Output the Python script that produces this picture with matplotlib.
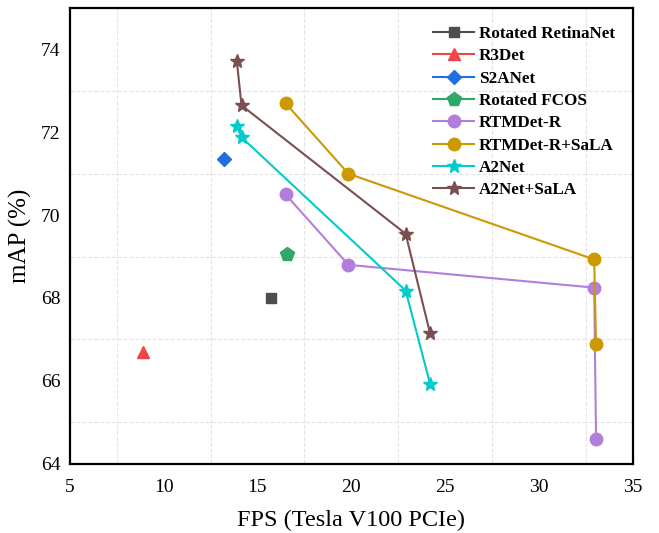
import matplotlib
matplotlib.use("Agg")
import matplotlib.pyplot as plt
from matplotlib.ticker import MultipleLocator

plt.rcParams['font.family'] = ['Liberation Serif', 'DejaVu Serif']

# single-model results (FPS, mAP)
retina_fps, retina_map = [15.7], [68.0]
r3det_fps, r3det_map = [8.9], [66.7]
s2anet_fps, s2anet_map = [13.2], [71.35]
fcos_fps, fcos_map = [16.6], [69.05]

# model families with several sizes
rtmdet_fps = [16.5, 19.85, 32.95, 33.05]
rtmdet_map = [70.5, 68.8, 68.25, 64.6]
rtmdet_sala_fps = [16.5, 19.85, 32.95, 33.05]
rtmdet_sala_map = [72.7, 71.0, 68.93, 66.9]
a2net_fps = [13.9, 14.15, 22.9, 24.2]
a2net_map = [72.15, 71.88, 68.18, 65.93]
a2net_sala_fps = [13.9, 14.15, 22.9, 24.2]
a2net_sala_map = [73.72, 72.65, 69.55, 67.15]

fig, ax = plt.subplots(figsize=(6.59, 5.33), dpi=100)
fig.subplots_adjust(left=0.106, right=0.96, bottom=0.13, top=0.985)

ms = 9
ax.plot(retina_fps, retina_map, '-s', color='#4d4d4d', ms=7, label='Rotated RetinaNet')
ax.plot(r3det_fps, r3det_map, '-^', color='#f04545', ms=ms, label='R3Det')
ax.plot(s2anet_fps, s2anet_map, '-D', color='#1f6fdf', ms=7, label='S2ANet')
ax.plot(fcos_fps, fcos_map, '-p', color='#2ea866', ms=10, label='Rotated FCOS')
ax.plot(rtmdet_fps, rtmdet_map, '-o', color='#b27ede', ms=ms, lw=1.5, label='RTMDet-R')
ax.plot(rtmdet_sala_fps, rtmdet_sala_map, '-o', color='#cc9900', ms=ms, lw=1.5, label='RTMDet-R+SaLA')
ax.plot(a2net_fps, a2net_map, '-*', color='#00cccc', ms=10, lw=1.5, label='A2Net')
ax.plot(a2net_sala_fps, a2net_sala_map, '-*', color='#7a4f4f', ms=10, lw=1.5, label='A2Net+SaLA')

ax.set_xlim(5, 35)
ax.set_ylim(64, 75)
ax.xaxis.set_major_locator(MultipleLocator(5))
ax.xaxis.set_minor_locator(MultipleLocator(2.5))
ax.yaxis.set_major_locator(MultipleLocator(2))
ax.yaxis.set_minor_locator(MultipleLocator(1))
ax.grid(which='minor', ls='--', color='#e4e4e4', lw=0.8)
ax.tick_params(which='both', length=0, labelsize=14)
ax.tick_params(axis='x', pad=11)
ax.tick_params(axis='y', pad=7)

for s in ax.spines.values():
    s.set_linewidth(1.6)

ax.set_xlabel('FPS (Tesla V100 PCIe)', fontsize=17.5, labelpad=10)
ax.set_ylabel('mAP (%)', fontsize=18, labelpad=6)

ax.legend(loc='upper right', frameon=False, prop={'weight': 'bold', 'size': 12.3},
          handlelength=2.35, handletextpad=0.3, labelspacing=0.37,
          borderaxespad=0.65, markerscale=1.0)

fig.savefig('out.png')
